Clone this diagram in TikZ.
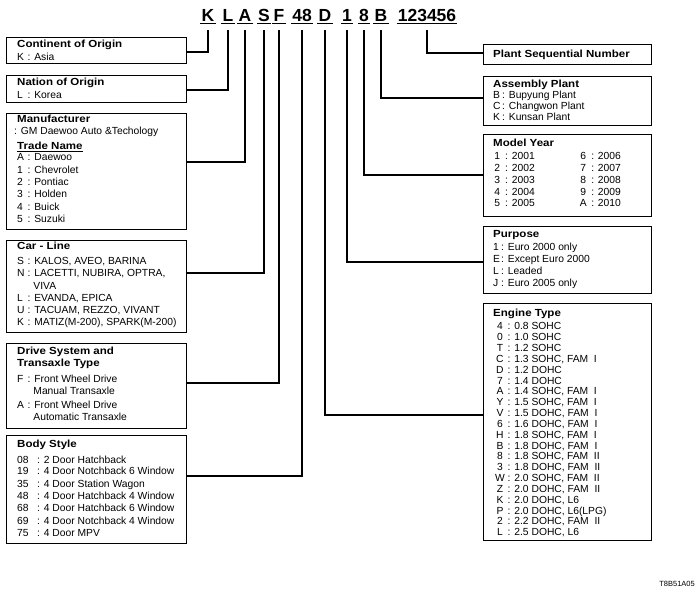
\documentclass[tikz,border=0pt]{standalone}
\usepackage{array}
\usepackage{fontspec}
\setmainfont{Liberation Sans}
\newfontfamily\tfont[FakeStretch=1.12]{Liberation Sans}
\usetikzlibrary{calc}
\newcommand\ttl[1]{\multicolumn{2}{@{}l@{}}{\tfont\bfseries #1}}
\newcommand\ind{\hphantom{:\ }}
\begin{document}
\begin{tikzpicture}[x=1pt,y=-1pt,
  box/.style={draw, line width=0.8pt, anchor=north west, inner sep=0pt},
  conn/.style={line width=1.7pt},
  vin/.style={font=\fontsize{17.5}{18}\selectfont\bfseries, anchor=base, inner sep=0pt},
  uline/.style={line width=1.6pt},
  txt/.style={anchor=base west, inner sep=0pt}]
\useasboundingbox (0,0) rectangle (700,595);

% VIN characters
\node[vin] (vK) at (208,21) {K};
\node[vin] (vL) at (228,21) {L};
\node[vin] (vA) at (245,21) {A};
\node[vin] (vS) at (264,21) {S};
\node[vin] (vF) at (279,21) {F};
\node[vin] (v48) at (302,21) {48};
\node[vin] (vD) at (325,21) {D};
\node[vin] (v1) at (347,21) {1};
\node[vin] (v8) at (364,21) {8};
\node[vin] (vB) at (381,21) {B};
\node[vin] (vN) at (427,21) {123456};
\foreach \n in {vK,vL,vA,vS,vF,v48,vD,v1,v8,vB,vN}
  \draw[uline] ([xshift=-1pt,yshift=-2.5pt]\n.base west) -- ([xshift=1pt,yshift=-2.5pt]\n.base east);

% left boxes
\node[box, minimum width=180pt, minimum height=26pt] (cont) at (6,37) {};
\node[box, minimum width=180pt, minimum height=27pt] (nat) at (6,75) {};
\node[box, minimum width=180pt, minimum height=116pt] (manu) at (6,113) {};
\node[box, minimum width=180pt, minimum height=92pt] (car) at (6,240) {};
\node[box, minimum width=180pt, minimum height=85pt] (drive) at (6,343) {};
\node[box, minimum width=180pt, minimum height=108pt] (body) at (6,435) {};

% right boxes
\node[box, minimum width=168pt, minimum height=20pt] (seq) at (483,44) {};
\node[box, minimum width=168pt, minimum height=49pt] (asm) at (483,76) {};
\node[box, minimum width=168pt, minimum height=82pt] (year) at (483,134) {};
\node[box, minimum width=168pt, minimum height=67pt] (purp) at (483,226) {};
\node[box, minimum width=168pt, minimum height=237pt] (eng) at (483,303) {};

% texts left
\node[txt, font=\fontsize{10.3}{13}\selectfont] (tcont) at (17,47.6) {\begin{tabular}[t]{@{}wl{8pt}@{\hspace{2.5pt}}l@{}}
\ttl{Continent of Origin}\\ K & : Asia\end{tabular}};
\node[txt, font=\fontsize{10.3}{13}\selectfont] (tnat) at (17,85.6) {\begin{tabular}[t]{@{}wl{8pt}@{\hspace{2.5pt}}l@{}}
\ttl{Nation of Origin}\\ L & : Korea\end{tabular}};
\node[txt, font=\fontsize{10.3}{12.4}\selectfont] (tmanu) at (17,122.6) {\begin{tabular}[t]{@{}wl{8pt}@{\hspace{2.5pt}}l@{}}
\ttl{Manufacturer}\\[-0.4pt]
\multicolumn{2}{@{}l@{}}{\hspace{-3pt}: GM Daewoo Auto \&Techology}\\[2.6pt]
\multicolumn{2}{@{}l@{}}{\tfont\bfseries\underline{Trade Name}}\\[-1.4pt]
A & : Daewoo\\ 1 & : Chevrolet\\ 2 & : Pontiac\\ 3 & : Holden\\ 4 & : Buick\\ 5 & : Suzuki
\end{tabular}};
\node[txt, font=\fontsize{10.3}{12.2}\selectfont] (tcar) at (17,249.6) {\begin{tabular}[t]{@{}wl{8pt}@{\hspace{2.5pt}}l@{}}
\ttl{Car - Line}\\[2.8pt]
S & : KALOS, AVEO, BARINA\\ N & : LACETTI, NUBIRA, OPTRA,\\ & \ind VIVA\\ L & : EVANDA, EPICA\\
U & : TACUAM, REZZO, VIVANT\\ K & : MATIZ(M-200), SPARK(M-200)
\end{tabular}};
\node[txt, font=\fontsize{10.3}{12}\selectfont] (tdrive) at (17,354.6) {\begin{tabular}[t]{@{}wl{8pt}@{\hspace{2.5pt}}l@{}}
\ttl{Drive System and}\\ \ttl{Transaxle Type}\\[4pt]
F & : Front Wheel Drive\\ & \ind Manual Transaxle\\[2pt] A & : Front Wheel Drive\\ & \ind Automatic Transaxle
\end{tabular}};
\node[txt, font=\fontsize{10.3}{12.4}\selectfont] (tbody) at (17,447.6) {\begin{tabular}[t]{@{}wl{17.5pt}@{\hspace{2.5pt}}l@{}}
\ttl{Body Style}\\[3.6pt]
08 & : 2 Door Hatchback\\[-1.4pt] 19 & : 4 Door Notchback 6 Window\\ 35 & : 4 Door Station Wagon\\
48 & : 4 Door Hatchback 4 Window\\ 68 & : 4 Door Hatchback 6 Window\\ 69 & : 4 Door Notchback 4 Window\\
75 & : 4 Door MPV
\end{tabular}};

% texts right
\node[txt, font=\fontsize{10.3}{12}\selectfont\tfont\bfseries] (tseq) at (493,57.6) {Plant Sequential Number};
\node[txt, font=\fontsize{10.3}{11}\selectfont] (tasm) at (493,87.4) {\begin{tabular}[t]{@{}wl{7pt}@{\hspace{2pt}}l@{}}
\ttl{Assembly Plant}\\ B & : Bupyung  Plant\\ C & : Changwon Plant\\ K & : Kunsan Plant
\end{tabular}};
\node[txt, font=\fontsize{10.3}{11.75}\selectfont] (tyear) at (493,146.6) {\begin{tabular}[t]{@{}wc{8pt}@{\hspace{4pt}}l@{\hspace{44.5pt}}wc{8pt}@{\hspace{4pt}}l@{}}
\multicolumn{4}{@{}l@{}}{\tfont\bfseries Model Year}\\[1.5pt]
1 & : 2001 & 6 & : 2006\\ 2 & : 2002 & 7 & : 2007\\ 3 & : 2003 & 8 & : 2008\\
4 & : 2004 & 9 & : 2009\\ 5 & : 2005 & A & : 2010
\end{tabular}};
\node[txt, font=\fontsize{10.3}{12.2}\selectfont] (tpurp) at (493,237.8) {\begin{tabular}[t]{@{}wl{6.5pt}@{\hspace{1.5pt}}l@{}}
\ttl{Purpose}\\ 1 & : Euro 2000 only\\ E & : Except Euro 2000\\ L & : Leaded\\ J & : Euro 2005  only
\end{tabular}};
\node[txt, font=\fontsize{10.3}{10.84}\selectfont] (teng) at (493,316.6) {\begin{tabular}[t]{@{}wc{13.5pt}@{\hspace{1pt}}l@{}}
\multicolumn{2}{@{}l@{}}{\tfont\bfseries Engine Type}\\[2.4pt]
4 & : 0.8 SOHC\\ 0 & : 1.0 SOHC\\ T & : 1.2 SOHC\\ C & : 1.3 SOHC, FAM\ \ I\\
D & : 1.2 DOHC\\ 7 & : 1.4 DOHC\\ A & : 1.4 SOHC, FAM\ \ I\\ Y & : 1.5 SOHC, FAM\ \ I\\
V & : 1.5 DOHC, FAM\ \ I\\ 6 & : 1.6 DOHC, FAM\ \ I\\ H & : 1.8 SOHC, FAM\ \ I\\
B & : 1.8 DOHC, FAM\ \ I\\ 8 & : 1.8 SOHC, FAM\ \ II\\ 3 & : 1.8 DOHC, FAM\ \ II\\
W & : 2.0 SOHC, FAM\ \ II\\ Z & : 2.0 DOHC, FAM\ \ II\\ K & : 2.0 DOHC,\ L6\\
P & : 2.0 DOHC,\ L6(LPG)\\ 2 & : 2.2 DOHC, FAM\ \ II\\ L & : 2.5 DOHC,\ L6
\end{tabular}};

\node[anchor=east, inner sep=0pt, font=\fontsize{7.5}{8}\selectfont] (code) at (695,584) {T8B51A05};

% connectors
\draw[conn] ([yshift=-9pt]vK.base) |- (cont.east |- 0,52);
\draw[conn] ([yshift=-9pt]vL.base) |- (nat.east |- 0,90);
\draw[conn] ([yshift=-9pt]vA.base) |- (manu.east |- 0,162);
\draw[conn] ([yshift=-9pt]vS.base) |- (car.east |- 0,273);
\draw[conn] ([yshift=-9pt]vF.base) |- (drive.east |- 0,383);
\draw[conn] ([yshift=-9pt]v48.base) |- (body.east |- 0,476);
\draw[conn] ([yshift=-9pt]vD.base) |- (eng.west |- 0,415);
\draw[conn] ([yshift=-9pt]v1.base) |- (purp.west |- 0,262);
\draw[conn] ([yshift=-9pt]v8.base) |- (year.west |- 0,175);
\draw[conn] ([yshift=-9pt]vB.base) |- (asm.west |- 0,98);
\draw[conn] ([yshift=-9pt]vN.base) |- (seq.west |- 0,53);
\end{tikzpicture}
\end{document}
